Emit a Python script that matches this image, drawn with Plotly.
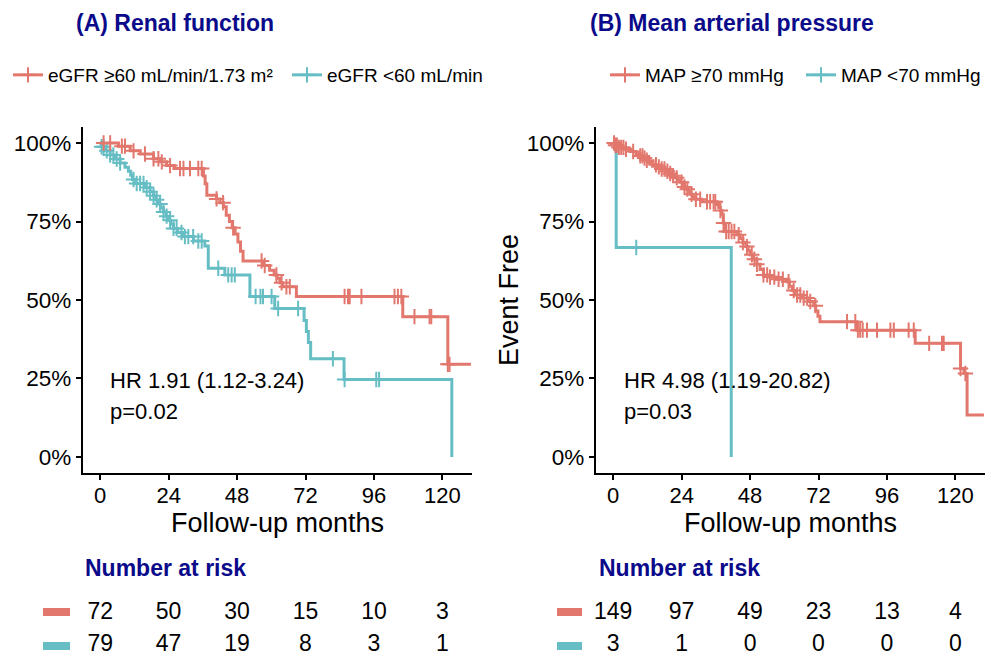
import numpy as np
import plotly.graph_objects as go

# ---------------- data ----------------
# Panel A: renal function (Kaplan-Meier step points: time in months, event-free %)
a_ge60_t = [0, 6.4, 10.5, 14.0, 18.7, 21.0, 23.3, 26.0, 36.2, 36.8, 37.4, 40.8, 42.0, 43.2,
            44.2, 45.3, 46.3, 47.3, 48.3, 49.2, 50.1, 57.1, 59.4, 61.0, 62.0, 63.0, 64.0,
            68.8, 106.1, 121.9]
a_ge60_s = [100, 99.0, 97.5, 96.5, 95.0, 94.0, 92.8, 91.9, 89.5, 87.0, 83.4, 82.2, 81.0, 79.7,
            77.0, 75.0, 73.0, 71.0, 68.5, 65.5, 62.4, 61.0, 59.5, 58.0, 56.9, 55.5, 54.2,
            51.1, 44.7, 29.5]
a_ge60_end = 130.0
a_ge60_cens = [1.2, 3.5, 7.6, 8.7, 11.7, 15.7, 18.7, 20.4, 21.6, 24.5, 28.0, 29.2, 31.5, 34.4,
               35.6, 40.8, 43.1, 46.6, 56.6, 57.7, 61.8, 63.6, 65.3, 66.5, 85.7, 86.9, 87.5,
               91.6, 103.2, 104.4, 105.6, 110.2, 115.5, 116.1, 121.9, 122.5]

a_lt60_t = [0, 0.3, 1.7, 3.5, 5.2, 7.0, 8.7, 9.9, 10.7, 11.3, 12.0, 15.7, 17.5, 18.7, 19.5,
            20.4, 21.2, 22.2, 23.1, 23.9, 24.7, 25.7, 27.1, 29.2, 32.7, 36.7, 37.9, 43.7,
            52.5, 61.2, 71.5, 72.3, 73.0, 73.8, 85.5, 123.3]
a_lt60_s = [100, 98.8, 97.5, 96.2, 94.9, 93.6, 92.3, 91.0, 89.7, 88.4, 87.1, 85.8, 84.5, 83.2,
            81.9, 80.6, 79.3, 78.0, 76.7, 75.4, 74.1, 72.8, 71.5, 70.2, 68.8, 67.2, 60.1,
            58.0, 51.1, 47.3, 43.5, 40.0, 36.5, 31.3, 24.7, 0]
a_lt60_end = 123.3
a_lt60_cens = [0.5, 1.2, 2.3, 3.5, 4.6, 5.8, 7.0, 11.7, 12.8, 14.0, 15.2, 16.3, 17.5, 18.7,
               19.8, 21.0, 22.2, 23.3, 24.5, 25.7, 26.8, 28.5, 29.7, 30.9, 32.6, 34.4, 35.6,
               41.4, 44.9, 46.1, 47.2, 54.5, 56.2, 57.1, 60.1, 62.4, 69.4, 81.6, 85.7,
               96.8, 97.8]

# Panel B: mean arterial pressure
b_ge70_t = [0, 0.5, 2.0, 4.0, 6.0, 8.0, 9.5, 10.5, 11.5, 12.5, 14.0, 15.5, 17.0, 18.5, 19.5,
            20.5, 21.5, 22.5, 23.5, 24.3, 25.0, 25.7, 26.3, 27.0, 27.8, 29.0, 31.0, 36.4,
            37.0, 37.6, 38.1, 38.6, 39.0, 43.4, 44.5, 45.5, 46.5, 47.3, 48.0, 49.0, 50.4,
            51.5, 52.7, 54.5, 57.0, 60.9, 61.8, 62.8, 63.6, 66.0, 68.5, 70.3, 71.0, 71.8,
            72.5, 85.5, 105.9, 121.8, 123.0, 124.1]
b_ge70_s = [100, 99.3, 98.6, 98.0, 97.3, 96.6, 95.9, 95.2, 94.5, 93.8, 93.1, 92.4, 91.7, 91.0,
            90.3, 89.6, 88.9, 88.2, 87.5, 86.8, 86.0, 85.3, 84.5, 83.7, 82.9, 82.1, 81.3,
            80.4, 79.5, 78.5, 77.3, 74.5, 71.8, 70.8, 69.6, 68.3, 67.0, 65.7, 64.4, 63.0,
            61.4, 59.7, 58.0, 57.3, 56.6, 55.8, 54.4, 53.0, 51.6, 50.6, 49.5, 48.2, 46.5,
            44.8, 43.1, 40.4, 36.2, 28.2, 26.6, 13.4]
b_ge70_end = 130.0
b_ge70_cens = [0.3, 0.8, 1.3, 2.0, 2.8, 3.6, 4.5, 7.0, 9.5, 10.3, 11.0, 11.8, 15.0, 16.0,
               17.0, 18.0, 19.0, 20.0, 21.0, 22.3, 24.0, 25.0, 26.0, 27.5, 29.0, 30.5, 32.9,
               34.0, 35.2, 35.8, 37.6, 38.7, 39.6, 40.5, 41.5, 42.5, 44.0, 45.5, 46.9, 48.6,
               49.5, 50.4, 52.7, 54.0, 55.0, 56.5, 58.0, 59.5, 61.5, 63.3, 64.5, 65.6, 66.8,
               68.0, 69.1, 70.9, 82.0, 84.9, 85.8, 86.6, 87.5, 89.0, 92.5, 97.2, 98.4, 103.6,
               105.4, 110.8, 115.3, 115.9, 121.8, 123.5]

b_lt70_t = [0, 1.05, 41.4]
b_lt70_s = [100, 66.7, 0]
b_lt70_end = 41.4
b_lt70_cens = [8.1]

# Number at risk
risk_times = [0, 24, 48, 72, 96, 120]
risk_a_ge60 = [72, 50, 30, 15, 10, 3]
risk_a_lt60 = [79, 47, 19, 8, 3, 1]
risk_b_ge70 = [149, 97, 49, 23, 13, 4]
risk_b_lt70 = [3, 1, 0, 0, 0, 0]

x_ticks = [0, 24, 48, 72, 96, 120]
y_ticks = [0, 25, 50, 75, 100]
y_ticktext = ["0%", "25%", "50%", "75%", "100%"]

# ---------------- style ----------------
FONT = "Liberation Sans, Arial, Helvetica, sans-serif"
RED = "#E2776D"
TEAL = "#66BEC4"
NAVY = "#0A0A8A"
W, H = 985, 656

xdomA = [82.5 / W, 471.5 / W]
xdomB = [595.5 / W, 984.5 / W]
ydom = [1 - 473 / H, 1 - 127 / H]
riskdom = [0, 1 - 600 / H]

fig = go.Figure()


def surv_at(ts, ss, t):
    idx = int(np.searchsorted(np.array(ts), t, side="right")) - 1
    return ss[idx]


def add_km(ts, ss, end_t, cens, color, xa, ya):
    xs = list(ts) + [end_t]
    ys = list(ss) + [ss[-1]]
    fig.add_trace(go.Scatter(x=xs, y=ys, mode="lines",
                             line=dict(color=color, width=3, shape="hv"),
                             xaxis=xa, yaxis=ya, showlegend=False, hoverinfo="skip"))
    cy = [surv_at(ts, ss, t) for t in cens]
    fig.add_trace(go.Scatter(x=cens, y=cy, mode="markers",
                             marker=dict(symbol="cross-thin", size=11,
                                         line=dict(color=color, width=2)),
                             xaxis=xa, yaxis=ya, showlegend=False, hoverinfo="skip"))


add_km(a_lt60_t, a_lt60_s, a_lt60_end, a_lt60_cens, TEAL, "x", "y")
add_km(a_ge60_t, a_ge60_s, a_ge60_end, a_ge60_cens, RED, "x", "y")
add_km(b_lt70_t, b_lt70_s, b_lt70_end, b_lt70_cens, TEAL, "x2", "y2")
add_km(b_ge70_t, b_ge70_s, b_ge70_end, b_ge70_cens, RED, "x2", "y2")

# legend entries
for name, color, lg in [("eGFR ≥60 mL/min/1.73 m²", RED, "legend"),
                        ("eGFR <60 mL/min", TEAL, "legend"),
                        ("MAP ≥70 mmHg", RED, "legend2"),
                        ("MAP <70 mmHg", TEAL, "legend2")]:
    fig.add_trace(go.Scatter(x=[None], y=[None], mode="lines+markers", name=name,
                             line=dict(color=color, width=3),
                             marker=dict(symbol="cross-thin", size=11,
                                         line=dict(color=color, width=2)),
                             legend=lg, xaxis="x", yaxis="y"))

# risk tables
for vals, row, xa, ya in [(risk_a_ge60, 1, "x3", "y3"), (risk_a_lt60, 0, "x3", "y3"),
                          (risk_b_ge70, 1, "x4", "y4"), (risk_b_lt70, 0, "x4", "y4")]:
    fig.add_trace(go.Scatter(x=risk_times, y=[row] * len(vals), mode="text",
                             text=[str(v) for v in vals], textposition="middle center",
                             textfont=dict(size=23, color="black", family=FONT),
                             cliponaxis=False, xaxis=xa, yaxis=ya,
                             showlegend=False, hoverinfo="skip"))

xcommon = dict(range=[-6.2, 130.2], tickvals=x_ticks, showline=True, linecolor="black",
               linewidth=1.5, ticks="outside", ticklen=5, tickwidth=1.5, tickcolor="black",
               ticklabelstandoff=-3,
               tickfont=dict(size=22, color="black", family=FONT), showgrid=False,
               zeroline=False, fixedrange=True)
ycommon = dict(range=[-5.1, 105.1], tickvals=y_ticks, ticktext=y_ticktext, showline=True,
               linecolor="black", linewidth=1.5, ticks="outside", ticklen=5, tickwidth=1.5,
               tickcolor="black", tickfont=dict(size=22.5, color="black", family=FONT),
               showgrid=False, zeroline=False, fixedrange=True)
hidden = dict(visible=False, showgrid=False, zeroline=False, fixedrange=True)

annotations = [
    dict(text="<b>(A) Renal function</b>", x=74 / W, y=1 - 23 / H, xref="paper", yref="paper",
         xanchor="left", yanchor="middle", showarrow=False,
         font=dict(size=23, color=NAVY, family=FONT)),
    dict(text="<b>(B) Mean arterial pressure</b>", x=588 / W, y=1 - 23 / H, xref="paper",
         yref="paper", xanchor="left", yanchor="middle", showarrow=False,
         font=dict(size=23, color=NAVY, family=FONT)),
    dict(text="<b>Number at risk</b>", x=83 / W, y=1 - 568 / H, xref="paper", yref="paper",
         xanchor="left", yanchor="middle", showarrow=False,
         font=dict(size=23, color=NAVY, family=FONT)),
    dict(text="<b>Number at risk</b>", x=597 / W, y=1 - 568 / H, xref="paper", yref="paper",
         xanchor="left", yanchor="middle", showarrow=False,
         font=dict(size=23, color=NAVY, family=FONT)),
    dict(text="Follow-up months", x=(xdomA[0] + xdomA[1]) / 2, y=1 - 523 / H, xref="paper",
         yref="paper", xanchor="center", yanchor="middle", showarrow=False,
         font=dict(size=27, color="black", family=FONT)),
    dict(text="Follow-up months", x=(xdomB[0] + xdomB[1]) / 2, y=1 - 523 / H, xref="paper",
         yref="paper", xanchor="center", yanchor="middle", showarrow=False,
         font=dict(size=27, color="black", family=FONT)),
    dict(text="Event Free", x=509 / W, y=1 - 300 / H, xref="paper", yref="paper",
         xanchor="center", yanchor="middle", textangle=-90, showarrow=False,
         font=dict(size=27, color="black", family=FONT)),
    dict(text="HR 1.91 (1.12-3.24)", x=2.8, y=24.5, xref="x", yref="y", xanchor="left",
         yanchor="middle", showarrow=False, font=dict(size=22, color="black", family=FONT)),
    dict(text="p=0.02", x=2.8, y=14.6, xref="x", yref="y", xanchor="left",
         yanchor="middle", showarrow=False, font=dict(size=22, color="black", family=FONT)),
    dict(text="HR 4.98 (1.19-20.82)", x=3.0, y=24.5, xref="x2", yref="y2", xanchor="left",
         yanchor="middle", showarrow=False, font=dict(size=22, color="black", family=FONT)),
    dict(text="p=0.03", x=3.0, y=14.6, xref="x2", yref="y2", xanchor="left",
         yanchor="middle", showarrow=False, font=dict(size=22, color="black", family=FONT)),
]

shapes = []
for x0, x1, y0, y1, c in [(43, 70, 608, 616, RED), (43, 70, 642, 650, TEAL),
                          (557, 582, 608, 616, RED), (557, 582, 642, 650, TEAL)]:
    shapes.append(dict(type="rect", xref="paper", yref="paper", x0=x0 / W, x1=x1 / W,
                       y0=1 - y1 / H, y1=1 - y0 / H, fillcolor=c, line=dict(width=0)))

legend_common = dict(orientation="h", xanchor="left", yanchor="top", bgcolor="rgba(0,0,0,0)",
                     font=dict(size=19, color="black", family=FONT), itemwidth=30,
                     tracegroupgap=0, traceorder="normal", entrywidthmode="pixels")

fig.update_layout(
    width=W, height=H, margin=dict(l=0, r=0, t=0, b=0, autoexpand=False),
    paper_bgcolor="white", plot_bgcolor="white",
    font=dict(family=FONT, color="black"),
    xaxis=dict(domain=xdomA, anchor="y", **xcommon),
    yaxis=dict(domain=ydom, anchor="x", **ycommon),
    xaxis2=dict(domain=xdomB, anchor="y2", **xcommon),
    yaxis2=dict(domain=ydom, anchor="x2", **ycommon),
    xaxis3=dict(domain=xdomA, anchor="y3", range=[-6.2, 130.2], **hidden),
    yaxis3=dict(domain=riskdom, anchor="x3", range=[-0.32, 1.40], **hidden),
    xaxis4=dict(domain=xdomB, anchor="y4", range=[-6.2, 130.2], **hidden),
    yaxis4=dict(domain=riskdom, anchor="x4", range=[-0.32, 1.40], **hidden),
    legend=dict(x=8 / W, y=1 - 56 / H, entrywidth=234, **legend_common),
    legend2=dict(x=605 / W, y=1 - 56 / H, entrywidth=151, **legend_common),
    annotations=annotations,
    shapes=shapes,
    showlegend=True,
)

fig.write_html("out.html")
